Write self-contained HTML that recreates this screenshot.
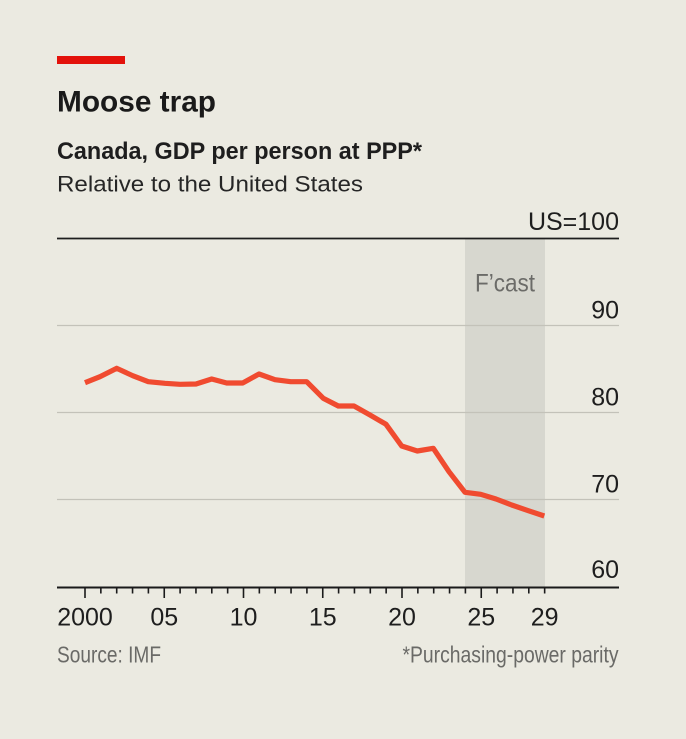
<!DOCTYPE html>
<html>
<head>
<meta charset="utf-8">
<style>
  html,body{margin:0;padding:0;background:#ebeae1;}
  svg{display:block;}
  text{font-family:"Liberation Sans",sans-serif;}
</style>
</head>
<body>
<svg width="686" height="739" viewBox="0 0 686 739" xmlns="http://www.w3.org/2000/svg">
  <rect x="0" y="0" width="686" height="739" fill="#ebeae1"/>
  <!-- red bar -->
  <rect x="57" y="56" width="68" height="8" fill="#e3120b"/>
  <!-- titles -->
  <text x="57" y="111.5" font-size="30" font-weight="bold" fill="#1a1a1a" textLength="159" lengthAdjust="spacingAndGlyphs">Moose trap</text>
  <text x="57" y="159" font-size="24" font-weight="bold" fill="#1e1e1e" textLength="365" lengthAdjust="spacingAndGlyphs">Canada, GDP per person at PPP*</text>
  <text x="57" y="191.5" font-size="22" fill="#262626" textLength="306" lengthAdjust="spacingAndGlyphs">Relative to the United States</text>

  <!-- forecast shading -->
  <rect x="465" y="239" width="80" height="348" fill="#d7d7cf"/>
  <text x="475" y="291.5" font-size="25" fill="#6b6b68" textLength="60" lengthAdjust="spacingAndGlyphs">F’cast</text>

  <!-- gridlines -->
  <line x1="57" y1="325.5" x2="619" y2="325.5" stroke="#c3c2b9" stroke-width="1.3"/>
  <line x1="57" y1="412.5" x2="619" y2="412.5" stroke="#c3c2b9" stroke-width="1.3"/>
  <line x1="57" y1="499.5" x2="619" y2="499.5" stroke="#c3c2b9" stroke-width="1.3"/>
  <line x1="57" y1="238.5" x2="619" y2="238.5" stroke="#1e1e1e" stroke-width="1.8"/>

  <!-- y labels -->
  <g font-size="25" fill="#1e1e1e" text-anchor="end">
    <text x="619" y="230">US=100</text>
    <text x="619" y="318.5">90</text>
    <text x="619" y="405.5">80</text>
    <text x="619" y="492.5">70</text>
    <text x="619" y="578">60</text>
  </g>

  <!-- data line -->
  <polyline fill="none" stroke="#f04b30" stroke-width="5.2" stroke-linejoin="round" stroke-linecap="butt"
    points="85,382.7 100,376.7 116.7,368.3 132.7,375.7 148.3,381.7 165,383.3 180,384.3 196,384 211.7,379 226.7,383 242.7,383 259,374 275,379.7 290.7,381.7 306.7,381.7 323.3,398.3 338.3,406 354,406 370,415 386,424.3 401.7,446 417.3,451 433.3,448.3 449,471.7 465,492.3 480.7,494.3 496,499 511.7,505 528.3,510.7 544.3,516"/>

  <!-- x axis -->
  <line x1="57" y1="587.5" x2="619" y2="587.5" stroke="#1a1a1a" stroke-width="2"/>
  <g stroke="#1a1a1a" stroke-width="1.6">
    <line x1="85" y1="587" x2="85" y2="598"/>
    <line x1="100.85" y1="587" x2="100.85" y2="593.5"/>
    <line x1="116.7" y1="587" x2="116.7" y2="593.5"/>
    <line x1="132.55" y1="587" x2="132.55" y2="593.5"/>
    <line x1="148.4" y1="587" x2="148.4" y2="593.5"/>
    <line x1="164.25" y1="587" x2="164.25" y2="598"/>
    <line x1="180.1" y1="587" x2="180.1" y2="593.5"/>
    <line x1="195.95" y1="587" x2="195.95" y2="593.5"/>
    <line x1="211.8" y1="587" x2="211.8" y2="593.5"/>
    <line x1="227.65" y1="587" x2="227.65" y2="593.5"/>
    <line x1="243.5" y1="587" x2="243.5" y2="598"/>
    <line x1="259.35" y1="587" x2="259.35" y2="593.5"/>
    <line x1="275.2" y1="587" x2="275.2" y2="593.5"/>
    <line x1="291.05" y1="587" x2="291.05" y2="593.5"/>
    <line x1="306.9" y1="587" x2="306.9" y2="593.5"/>
    <line x1="322.75" y1="587" x2="322.75" y2="598"/>
    <line x1="338.6" y1="587" x2="338.6" y2="593.5"/>
    <line x1="354.45" y1="587" x2="354.45" y2="593.5"/>
    <line x1="370.3" y1="587" x2="370.3" y2="593.5"/>
    <line x1="386.15" y1="587" x2="386.15" y2="593.5"/>
    <line x1="402" y1="587" x2="402" y2="598"/>
    <line x1="417.85" y1="587" x2="417.85" y2="593.5"/>
    <line x1="433.7" y1="587" x2="433.7" y2="593.5"/>
    <line x1="449.55" y1="587" x2="449.55" y2="593.5"/>
    <line x1="465.4" y1="587" x2="465.4" y2="593.5"/>
    <line x1="481.25" y1="587" x2="481.25" y2="598"/>
    <line x1="497.1" y1="587" x2="497.1" y2="593.5"/>
    <line x1="512.95" y1="587" x2="512.95" y2="593.5"/>
    <line x1="528.8" y1="587" x2="528.8" y2="593.5"/>
    <line x1="544.65" y1="587" x2="544.65" y2="593.5"/>
  </g>
  <g font-size="25" fill="#1e1e1e" text-anchor="middle">
    <text x="85" y="625.5">2000</text>
    <text x="164.25" y="625.5">05</text>
    <text x="243.5" y="625.5">10</text>
    <text x="322.75" y="625.5">15</text>
    <text x="402" y="625.5">20</text>
    <text x="481.25" y="625.5">25</text>
    <text x="544.65" y="625.5">29</text>
  </g>

  <!-- footer -->
  <text x="57" y="662.5" font-size="23" fill="#6a6a67" textLength="104" lengthAdjust="spacingAndGlyphs">Source: IMF</text>
  <text x="618.5" y="662.5" font-size="23" fill="#6a6a67" text-anchor="end" textLength="216" lengthAdjust="spacingAndGlyphs">*Purchasing-power parity</text>
</svg>
</body>
</html>
